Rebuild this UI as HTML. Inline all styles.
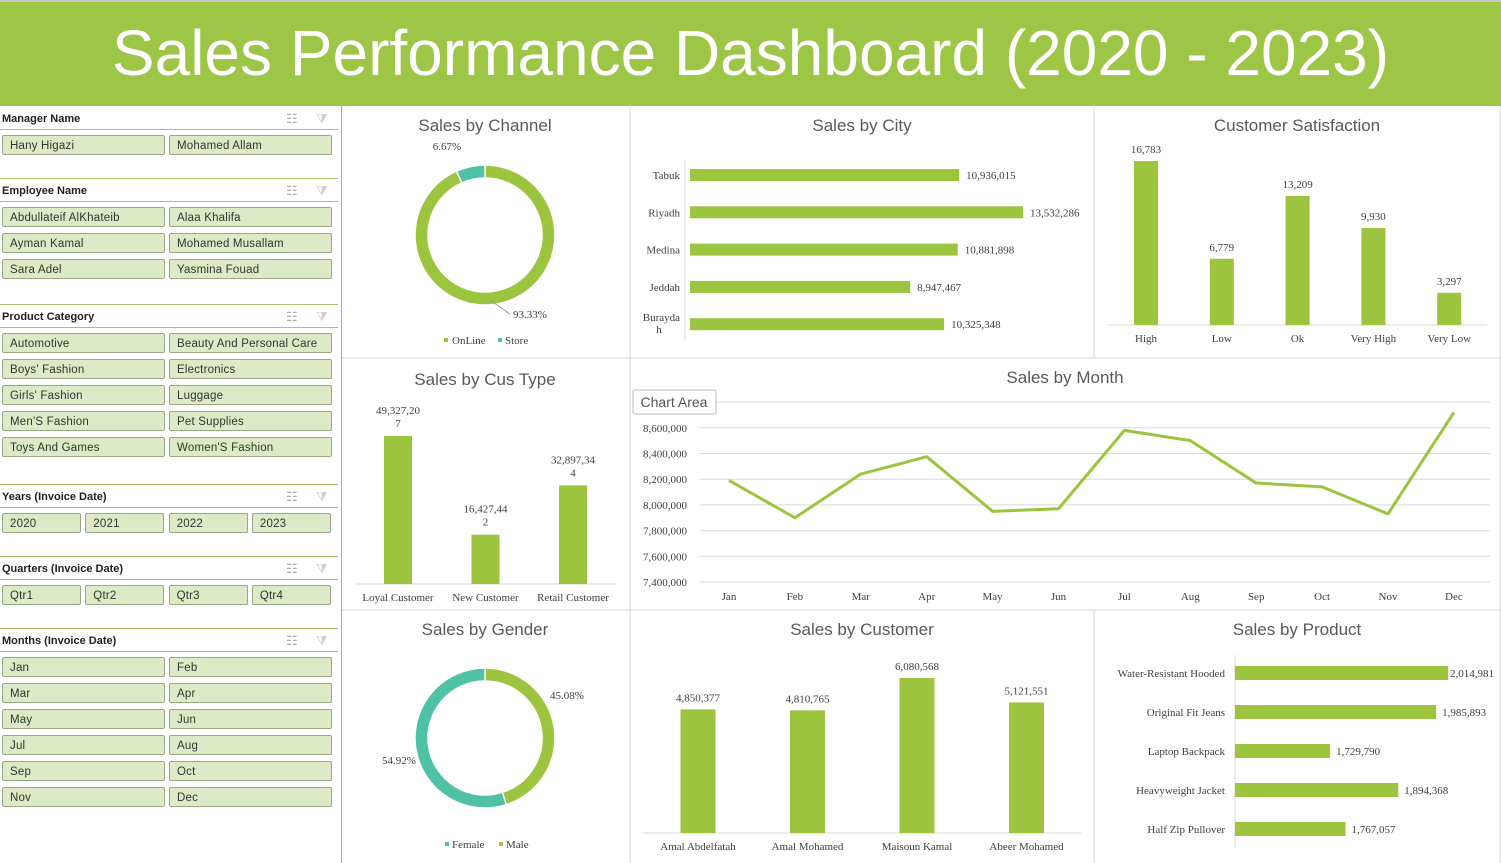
<!DOCTYPE html>
<html><head><meta charset="utf-8"><style>
body{margin:0;width:1501px;height:863px;overflow:hidden;background:#fff;font-family:"Liberation Sans",sans-serif;position:relative}
.hdr{position:absolute;left:0;top:0;width:1501px;height:106px;background:#9dc646;color:#fff;font-size:64px;text-align:center;line-height:102px;border-top:2px solid #c8c8c8;box-sizing:border-box}
.sl-h{position:absolute;left:2px;font-size:11px;font-weight:bold;color:#222}
.sl-line{position:absolute;left:0;width:338px;height:1px;background:#a9c76a}
.btn{position:absolute;height:20px;background:#dcebc5;border:1px solid #9aa88a;border-radius:2px;font-size:11.5px;line-height:20px;padding-left:7px;box-sizing:border-box;color:#333;letter-spacing:.2px}
.ic{position:absolute;font-size:13px;color:#aaa}
svg{position:absolute;left:0;top:0}
</style></head><body>
<div class="hdr">Sales Performance Dashboard (2020 - 2023)</div>
<div id="slicers"></div>
<svg id="c" width="1501" height="863"></svg>
<script>
const monthCats=["Jan","Feb","Mar","Apr","May","Jun","Jul","Aug","Sep","Oct","Nov","Dec"];
const monthVals=[8190000,7900000,8240000,8375000,7950000,7970000,8580000,8500000,8170000,8140000,7930000,8720000];
const monthTicks=[7400000,7600000,7800000,8000000,8200000,8400000,8600000,8800000];
const cityCats=["Tabuk","Riyadh","Medina","Jeddah","Buraydah"];
const cityVals=[10936015,13532286,10881898,8947467,10325348];
const satCats=["High","Low","Ok","Very High","Very Low"];
const satVals=[16783,6779,13209,9930,3297];
const cusCats=["Loyal Customer","New Customer","Retail Customer"];
const cusVals=[49327207,16427442,32897344];
const custCats=["Amal Abdelfatah","Amal Mohamed","Maisoun Kamal","Abeer Mohamed"];
const custVals=[4850377,4810765,6080568,5121551];
const prodCats=["Water-Resistant Hooded","Original Fit Jeans","Laptop Backpack","Heavyweight Jacket","Half Zip Pullover"];
const prodVals=[2014981,1985893,1729790,1894368,1767057];
const channelCats=["OnLine","Store"];
const channelVals=[93.33,6.67];
const genderCats=["Male","Female"];
const genderVals=[45.08,54.92];

const G="#9dc43f",T="#4fc1a5";
const fmt=v=>v.toLocaleString("en-US");
const sp=document.getElementById("slicers");
const sections=[
 {t:"Manager Name",y:111,cols:2,items:["Hany Higazi","Mohamed Allam"]},
 {t:"Employee Name",y:183,cols:2,items:["Abdullateif AlKhateib","Alaa Khalifa","Ayman Kamal","Mohamed Musallam","Sara Adel","Yasmina Fouad"]},
 {t:"Product Category",y:309,cols:2,items:["Automotive","Beauty And Personal Care","Boys' Fashion","Electronics","Girls' Fashion","Luggage","Men'S Fashion","Pet Supplies","Toys And Games","Women'S Fashion"]},
 {t:"Years (Invoice Date)",y:489,cols:4,items:["2020","2021","2022","2023"]},
 {t:"Quarters (Invoice Date)",y:561,cols:4,items:["Qtr1","Qtr2","Qtr3","Qtr4"]},
 {t:"Months (Invoice Date)",y:633,cols:2,items:monthCats}];
let h='';
sections.forEach((s,si)=>{
 h+=`<div class="sl-h" style="top:${s.y+2}px">${s.t}</div>`;
 h+=`<div class="ic" style="left:286px;top:${s.y}px">☷</div><div class="ic" style="left:316px;top:${s.y}px;color:#ccc">⧩</div>`;
 h+=`<div class="sl-line" style="top:${s.y+18}px"></div>`;
 if(si>0)h+=`<div class="sl-line" style="top:${s.y-5}px"></div>`;
 s.items.forEach((it,i)=>{
  const c=i%s.cols,r=Math.floor(i/s.cols);
  const w=s.cols==2?163:79,x=s.cols==2?2+c*167:2+c*83.3;
  h+=`<div class="btn" style="left:${x}px;top:${s.y+24+r*26}px;width:${w}px">${it}</div>`;
 });
});
sp.innerHTML=h;

const svg=document.getElementById("c");
let o='';
const serif='font-family="Liberation Serif,serif"';
function txt(x,y,s,opt){opt=opt||{};return `<text x="${x}" y="${y}" font-size="${opt.fs||11}" fill="${opt.fill||'#404040'}" text-anchor="${opt.a||'middle'}" ${opt.sans?'font-family="Liberation Sans,sans-serif"':serif}>${s}</text>`;}
o+=`<rect x="341" y="106" width="1" height="757" fill="#9dc646"/>`;
[[630,107,630,863],[1094,107,1094,358],[1094,610,1094,863],[342,358,1501,358],[342,610,1501,610],[1500,106,1500,863]].forEach(l=>o+=`<line x1="${l[0]}" y1="${l[1]}" x2="${l[2]}" y2="${l[3]}" stroke="#d9d9d9"/>`);
[["Sales by Channel",485,131],["Sales by City",862,131],["Customer Satisfaction",1297,131],["Sales by Cus Type",485,385],["Sales by Month",1065,383],["Sales by Gender",485,635],["Sales by Customer",862,635],["Sales by Product",1297,635]].forEach(t=>o+=txt(t[1],t[2],t[0],{fs:17,sans:1,fill:'#595959'}));
function donut(cx,cy,vals,cols,startDeg){
 const R=70,r=57;let a=startDeg*Math.PI/180,s='';const tot=vals.reduce((p,q)=>p+q,0);
 vals.forEach((v,i)=>{const b=a+v/tot*2*Math.PI;const lg=(b-a)>Math.PI?1:0;
  const p=(rr,t)=>[cx+rr*Math.sin(t),cy-rr*Math.cos(t)];
  const [x1,y1]=p(R,a),[x2,y2]=p(R,b),[x3,y3]=p(r,b),[x4,y4]=p(r,a);
  s+=`<path d="M${x1},${y1}A${R},${R} 0 ${lg} 1 ${x2},${y2}L${x3},${y3}A${r},${r} 0 ${lg} 0 ${x4},${y4}Z" fill="${cols[i]}" stroke="#fff" stroke-width="1.5"/>`;a=b;});
 return s;}
o+=donut(485,235,channelVals,[G,T],0);
o+=txt(447,150,channelVals[1].toFixed(2)+"%")+txt(530,318,channelVals[0].toFixed(2)+"%");
o+=`<line x1="490" y1="300" x2="510" y2="314" stroke="#999"/>`;
o+=`<rect x="444" y="338" width="4" height="4" fill="${G}"/>`+txt(452,344,channelCats[0],{a:'start'})+`<rect x="498" y="338" width="4" height="4" fill="${T}"/>`+txt(505,344,channelCats[1],{a:'start'});
o+=donut(485,738,genderVals,[G,T],0);
o+=txt(567,699,genderVals[0].toFixed(2)+"%")+txt(399,764,genderVals[1].toFixed(2)+"%");
o+=`<rect x="445" y="842" width="4" height="4" fill="${T}"/>`+txt(452,848,genderCats[1],{a:'start'})+`<rect x="499" y="842" width="4" height="4" fill="${G}"/>`+txt(506,848,genderCats[0],{a:'start'});
const cityX=v=>690+v*333/13532286;
cityVals.forEach((v,i)=>{const y=175+i*37.3;o+=`<rect x="690" y="${y-6}" width="${cityX(v)-690}" height="12" fill="${G}"/>`+txt(cityX(v)+7,y+4,fmt(v),{a:'start'});
 if(cityCats[i]=="Buraydah")o+=txt(680,y-3,"Burayda",{a:'end'})+txt(659,y+9,"h");else o+=txt(680,y+4,cityCats[i],{a:'end'});});
o+=`<line x1="685" y1="160" x2="685" y2="340" stroke="#d9d9d9"/>`;
function vbars(cats,vals,x0,dx,w,base,max,hmax,name,lblFn){
 let s=`<line x1="${x0-dx/2}" y1="${base}" x2="${x0+dx*(cats.length-.5)}" y2="${base}" stroke="#d9d9d9"/>`;
 vals.forEach((v,i)=>{const x=x0+i*dx,hh=v/max*hmax;
  s+=`<rect x="${x-w/2}" y="${base-hh}" width="${w}" height="${hh}" fill="${G}"/>`;
  s+=lblFn(x,base-hh,v);s+=txt(x,base+17,cats[i]);});return s;}
o+=vbars(satCats,satVals,1146,75.8,24,325,16783,164,"satisfaction-bar",(x,y,v)=>txt(x,y-8,fmt(v)));
o+=vbars(cusCats,cusVals,398,87.5,28,584,49327207,148,"custype-bar",(x,y,v)=>{const s=fmt(v);return txt(x,y-22,s.slice(0,-1))+txt(x,y-9,s.slice(-1));});
o+=vbars(custCats,custVals,698,109.5,35,833,6080568,155,"customer-bar",(x,y,v)=>txt(x,y-8,fmt(v)));
const px=v=>1235+(v-1500000)*0.000414;
o+=`<line x1="1235" y1="655" x2="1235" y2="848" stroke="#d9d9d9"/>`;
prodVals.forEach((v,i)=>{const y=673+i*39;o+=`<rect x="1235" y="${y-7}" width="${px(v)-1235}" height="14" fill="${G}"/>`+txt(Math.min(px(v)+6,1450),y+4,fmt(v),{a:'start'})+txt(1225,y+4,prodCats[i],{a:'end'});});
const ly=v=>582-(v-7400000)/200000*25.7;
const lx=i=>729+i*65.9;
monthTicks.forEach(t=>{o+=`<line x1="700" y1="${ly(t)}" x2="1490" y2="${ly(t)}" stroke="#d9d9d9"/>`;if(t<8800000)o+=txt(687,ly(t)+4,fmt(t),{a:'end'});});
monthCats.forEach((m,i)=>o+=txt(lx(i),600,m));
o+=`<polyline points="${monthVals.map((v,i)=>lx(i)+','+ly(v)).join(' ')}" fill="none" stroke="${G}" stroke-width="3" stroke-linejoin="round"/>`;
o+=`<rect x="633" y="390" width="83" height="24" fill="#fff" stroke="#bbb" rx="2"/>`+txt(674,407,"Chart Area",{fs:14,sans:1,fill:'#555'});
svg.innerHTML=o;
</script>
</body></html>
